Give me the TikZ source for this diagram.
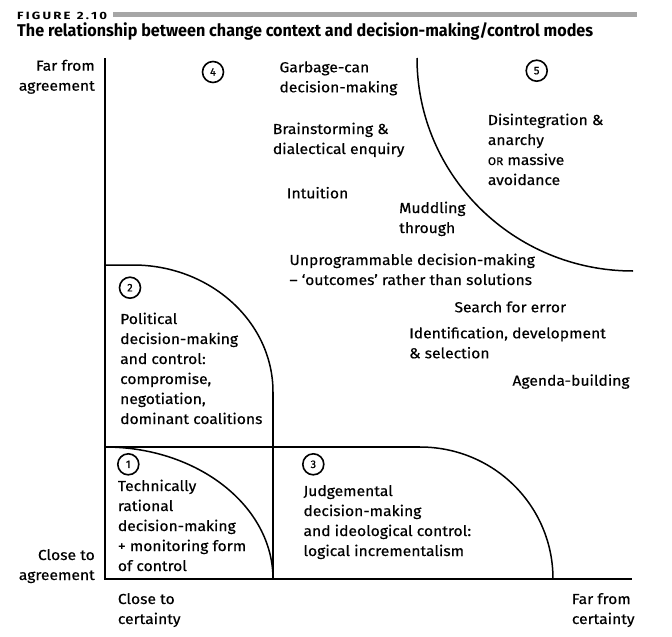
\documentclass[tikz,border=0pt]{standalone}
\usepackage{fontspec}
\setmainfont{Fira Sans}[FakeStretch=1.08, FakeBold=0.4]
\newfontfamily\titlefont{Fira Sans}
\newfontfamily\numfont{Fira Sans}[FakeBold=0.8]
\begin{document}
\begin{tikzpicture}[x=1pt,y=-1pt,
  lbl/.style={anchor=base west, inner sep=0pt, align=left, font=\fontsize{14.5}{20}\selectfont},
  rlbl/.style={anchor=base east, inner sep=0pt, align=right, font=\fontsize{14.5}{20}\selectfont},
  num/.style={circle, draw, line width=1.6pt, minimum size=21pt, inner sep=0pt, font=\numfont\fontsize{11}{11}\selectfont},
  edge/.style={line width=1.5pt}]
\useasboundingbox (0,0) rectangle (672,637);
\fill[white] (0,0) rectangle (672,637);
% header
\node[anchor=base west, inner sep=0pt] (fig) at (17,19.3) {\resizebox{90pt}{\height}{\titlefont\fontsize{10.5}{10.5}\selectfont\bfseries F\,I\,G\,U\,R\,E\ \ 2\,.\,1\,0}};
\fill[black!35] (113,12) rectangle (637,17);
\node[anchor=base west, inner sep=0pt] (title) at (17,37) {\resizebox{576pt}{\height}{\titlefont\fontsize{17}{17}\selectfont\bfseries The relationship between change context and decision-making/control modes}};
% axes
\draw[edge] (105,58) -- (105,579) -- (632,579);
% region 1
\draw[edge] (105,447) .. controls (197.8,447) and (273,506.1) .. (273,579);
\draw[edge] (105,447) -- (420,447);
\draw[edge] (273,392) -- (273,579);
% region 2
\draw[edge] (105,265) -- (133,265) .. controls (210.3,265) and (273,321.9) .. (273,392);
% region 3
\draw[edge] (420,447) .. controls (493.5,447) and (553,505.5) .. (553,579);
% region 5
\draw[edge] (417,58) .. controls (417,175.6) and (513.7,271) .. (633,271);
% numbers
\node[num] (n1) at (128.3,464.3) {1};
\node[num] (n2) at (130,287.7) {2};
\node[num] (n3) at (313.3,464.3) {3};
\node[num] (n4) at (213,72) {4};
\node[num] (n5) at (536.7,70.7) {5};
% axis labels (base = baseline of last line)
\node[rlbl] (ya) at (95,90.7) {Far from\\agreement};
\node[rlbl] (yb) at (95,580) {Close to\\agreement};
\node[lbl] (xa) at (117.7,624) {Close to\\certainty};
\node[lbl] (xb) at (571.7,624) {Far from\\certainty};
% region texts
\node[lbl] (t1) at (117.7,571) {Technically\\rational\\decision-making\\+ monitoring form\\of control};
\node[lbl] (t2) at (120,424) {Political\\decision-making\\and control:\\compromise,\\negotiation,\\dominant coalitions};
\node[lbl] (t3) at (303.3,556) {Judgemental\\decision-making\\and ideological control:\\logical incrementalism};
\node[lbl] (g) at (279.3,92.3) {Garbage-can\\decision-making};
\node[lbl] (b) at (272.7,154) {Brainstorming \&\\dialectical enquiry};
\node[lbl] (i) at (286.7,198.3) {Intuition};
\node[lbl] (m) at (399,233) {Muddling\\through};
\node[lbl] (d) at (487.7,185) {Disintegration \&\\anarchy\\{\fontsize{11}{20}\selectfont OR} massive\\avoidance};
\node[lbl] (u) at (289.3,285) {Unprogrammable decision-making\\– ‘outcomes’ rather than solutions};
\node[lbl] (s) at (454.3,312.3) {Search for error};
\node[lbl] (id) at (409,358.3) {Identification, development\\\& selection};
\node[lbl] (a) at (512.3,385.7) {Agenda-building};
\end{tikzpicture}
\end{document}
